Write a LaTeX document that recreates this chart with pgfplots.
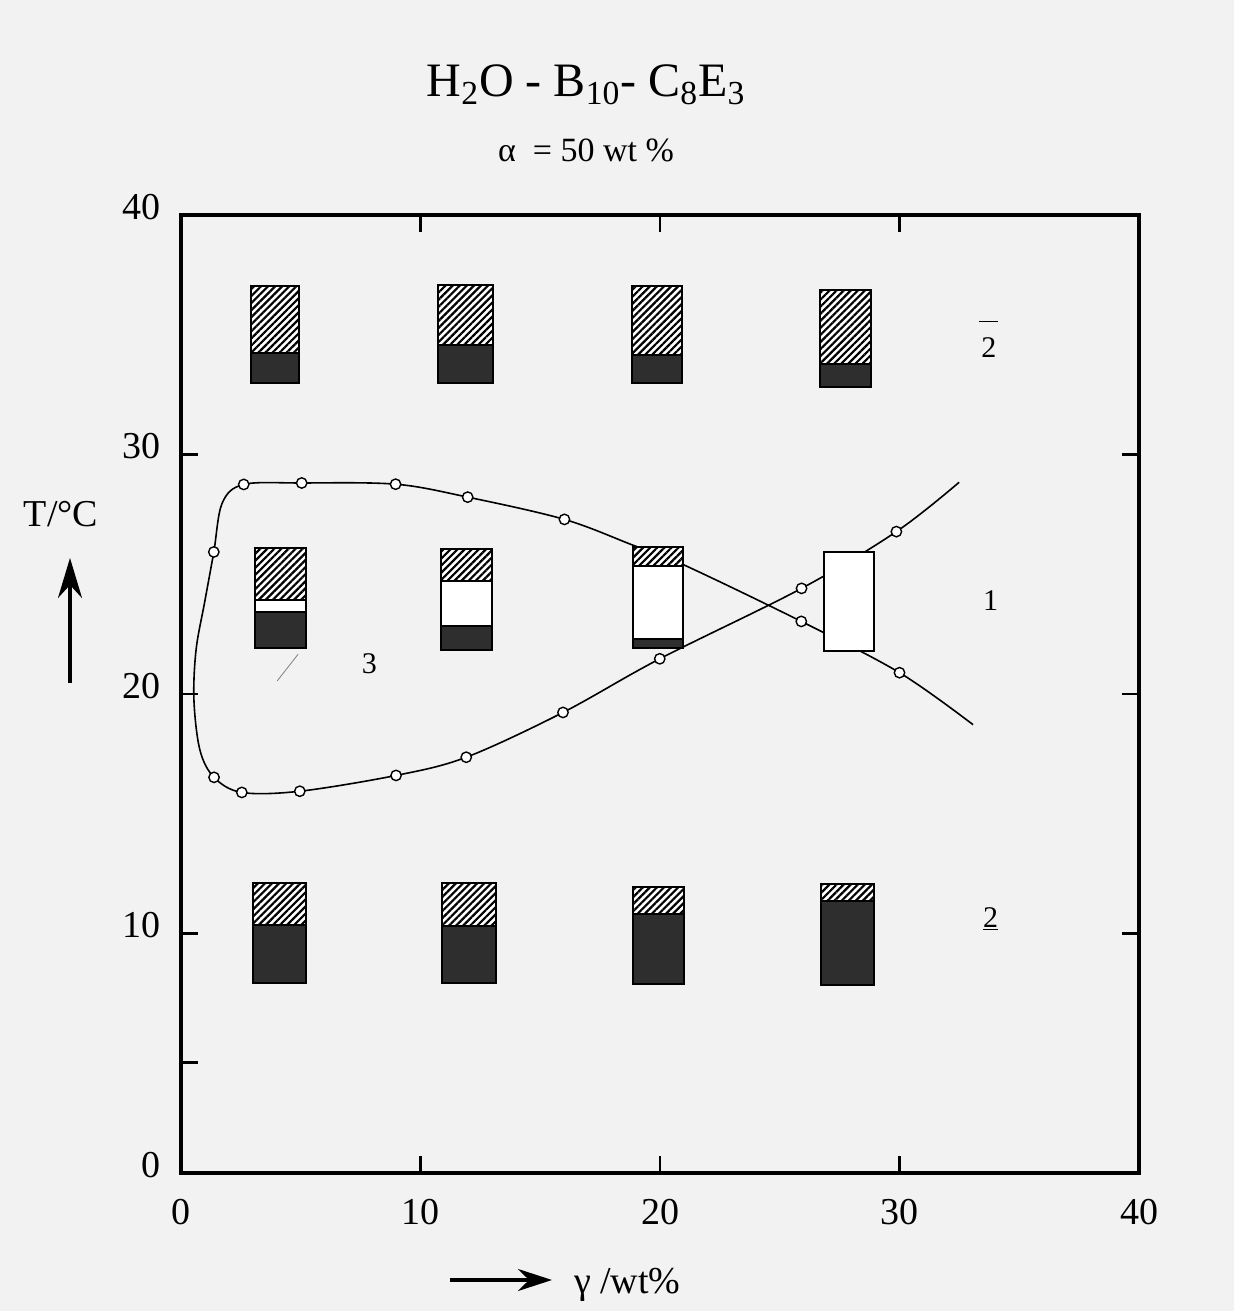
\documentclass[border=0pt]{standalone}
\usepackage{fontspec}
\setmainfont{Liberation Serif}
\usepackage{pgfplots}
\pgfplotsset{compat=1.18}
\usetikzlibrary{patterns.meta, arrows.meta}

% one layer of a phase tube: x1 x2 ybottom ytop style
\newcommand\seg[5]{\addplot[#5] coordinates {(#1,#3) (#2,#3) (#2,#4) (#1,#4)} -- cycle;}

\tikzset{
  hatch/.style={draw=black, line width=1pt, line join=miter, preaction={fill=white},
    pattern={Lines[angle=45,distance=2.5pt,line width=1.1pt]}},
  clear/.style={draw=black, line width=1pt, line join=miter, fill=white},
  dark/.style={draw=black, line width=1pt, line join=miter, fill=black!82},
}

\begin{document}
\begin{tikzpicture}
\fill[black!5] (-90.5pt,-69pt) rectangle (526.5pt,586.5pt);
\path[use as bounding box] (-90.5pt,-69pt) rectangle (526.5pt,586.5pt);

\begin{axis}[
  at={(0pt,0pt)}, anchor=south west,
  scale only axis, width=479pt, height=479pt,
  xmin=0, xmax=40, ymin=0, ymax=40,
  xtick={0,10,20,30,40}, ytick={0,10,20,30,40},
  tick align=inside,
  major tick length=8.5pt,
  axis line style={line width=1.6pt},
  tick style={line width=1.4pt, black},
  tick label style={font=\fontsize{19}{22}\selectfont},
  /pgf/number format/assume math mode=true,
  xticklabel style={yshift=-9.5pt},
  yticklabel style={xshift=-6.5pt, yshift=4pt},
  extra y ticks={4.6},
  extra y tick labels={},
  extra y tick style={ytick pos=left},
  clip=false,
]

% phase boundary curve
\addplot[line width=0.8pt, smooth, tension=0.55] coordinates {
  (32.49,28.84) (29.87,26.78) (25.91,24.41) (19.99,21.47) (15.95,19.23)
  (11.91,17.36) (8.98,16.60) (4.96,15.94) (2.54,15.89) (1.38,16.52)
  (0.79,17.66) (0.54,19.75) (0.63,21.85) (1.00,23.90) (1.37,25.93)
  (1.72,27.97) (2.62,28.75) (5.04,28.81) (8.96,28.76) (11.97,28.22)
  (16.01,27.29) (18.88,26.21) (20.91,25.43) (25.90,23.03) (30.00,20.89)
  (33.07,18.72)
};

% top row of tubes
\seg{2.94}{4.91}{34.25}{37.05}{hatch}
\seg{2.94}{4.91}{33.00}{34.25}{dark}
\seg{10.71}{13.01}{34.57}{37.08}{hatch}
\seg{10.71}{13.01}{32.98}{34.57}{dark}
\seg{18.82}{20.90}{34.14}{37.02}{hatch}
\seg{18.82}{20.90}{32.97}{34.14}{dark}
\seg{26.67}{28.80}{33.78}{36.88}{hatch}
\seg{26.67}{28.80}{32.82}{33.78}{dark}

% middle row
\seg{3.10}{5.23}{23.93}{26.10}{hatch}
\seg{3.10}{5.23}{23.43}{23.93}{clear}
\seg{3.10}{5.23}{21.93}{23.43}{dark}
\seg{10.87}{13.00}{24.71}{26.04}{hatch}
\seg{10.87}{13.00}{22.83}{24.71}{clear}
\seg{10.87}{13.00}{21.83}{22.83}{dark}
\seg{18.89}{20.94}{25.36}{26.15}{hatch}
\seg{18.89}{20.94}{22.31}{25.36}{clear}
\seg{18.89}{20.94}{21.93}{22.31}{dark}
\seg{26.83}{28.92}{21.80}{25.93}{clear}

% bottom row
\seg{3.01}{5.22}{10.35}{12.10}{hatch}
\seg{3.01}{5.22}{7.93}{10.35}{dark}
\seg{10.90}{13.16}{10.33}{12.09}{hatch}
\seg{10.90}{13.16}{7.95}{10.33}{dark}
\seg{18.88}{21.01}{10.82}{11.95}{hatch}
\seg{18.88}{21.01}{7.90}{10.82}{dark}
\seg{26.73}{28.95}{11.35}{12.06}{hatch}
\seg{26.73}{28.95}{7.84}{11.35}{dark}

% measured points
\addplot[only marks, mark=*, mark size=2.6pt,
  mark options={fill=white, draw=black, line width=0.7pt}] coordinates {
  (1.37,25.93) (2.62,28.75) (5.04,28.81) (8.96,28.76) (11.97,28.22)
  (16.01,27.29) (29.87,26.78) (25.91,24.41) (25.90,23.03) (30.00,20.89)
  (19.99,21.47) (15.95,19.23) (11.91,17.36) (8.98,16.60) (4.96,15.94)
  (2.54,15.89) (1.38,16.52)
};

% region labels
\node[font=\fontsize{15}{18}\selectfont] at (axis cs:33.73,34.46) {2};
\draw[line width=0.9pt] (axis cs:33.32,35.55) -- (axis cs:34.11,35.55);
\node[font=\fontsize{15}{18}\selectfont] at (axis cs:33.80,23.90) {1};
\node[font=\fontsize{15}{18}\selectfont] at (axis cs:7.87,21.25) {3};
\node[font=\fontsize{15}{18}\selectfont] at (axis cs:33.80,10.60) {\underline{2}};
\draw[gray, line width=0.4pt] (axis cs:4.89,21.66) -- (axis cs:4.02,20.55);
\end{axis}

% titles and axis labels
\node[font=\fontsize{24}{28}\selectfont, anchor=base] at (202.5pt,538pt)
  {H\textsubscript{2}O - B\textsubscript{10}- C\textsubscript{8}E\textsubscript{3}};
\node[font=\fontsize{17}{20}\selectfont, anchor=base] at (202.5pt,505.5pt)
  {α\ \ = 50 wt \%};
\node[font=\fontsize{19}{22}\selectfont, anchor=base] at (-60pt,323pt) {T/°C};
\draw[line width=1.6pt, -{Stealth[length=20pt,width=12pt]}] (-55.5pt,245pt) -- (-55.5pt,307.5pt);
\draw[line width=1.8pt, -{Stealth[length=17pt,width=11pt]}] (134.5pt,-53.5pt) -- (185.5pt,-53.5pt);
\node[font=\fontsize{19}{22}\selectfont, anchor=base west] at (193pt,-60pt) {γ /wt\%};
\end{tikzpicture}
\end{document}
